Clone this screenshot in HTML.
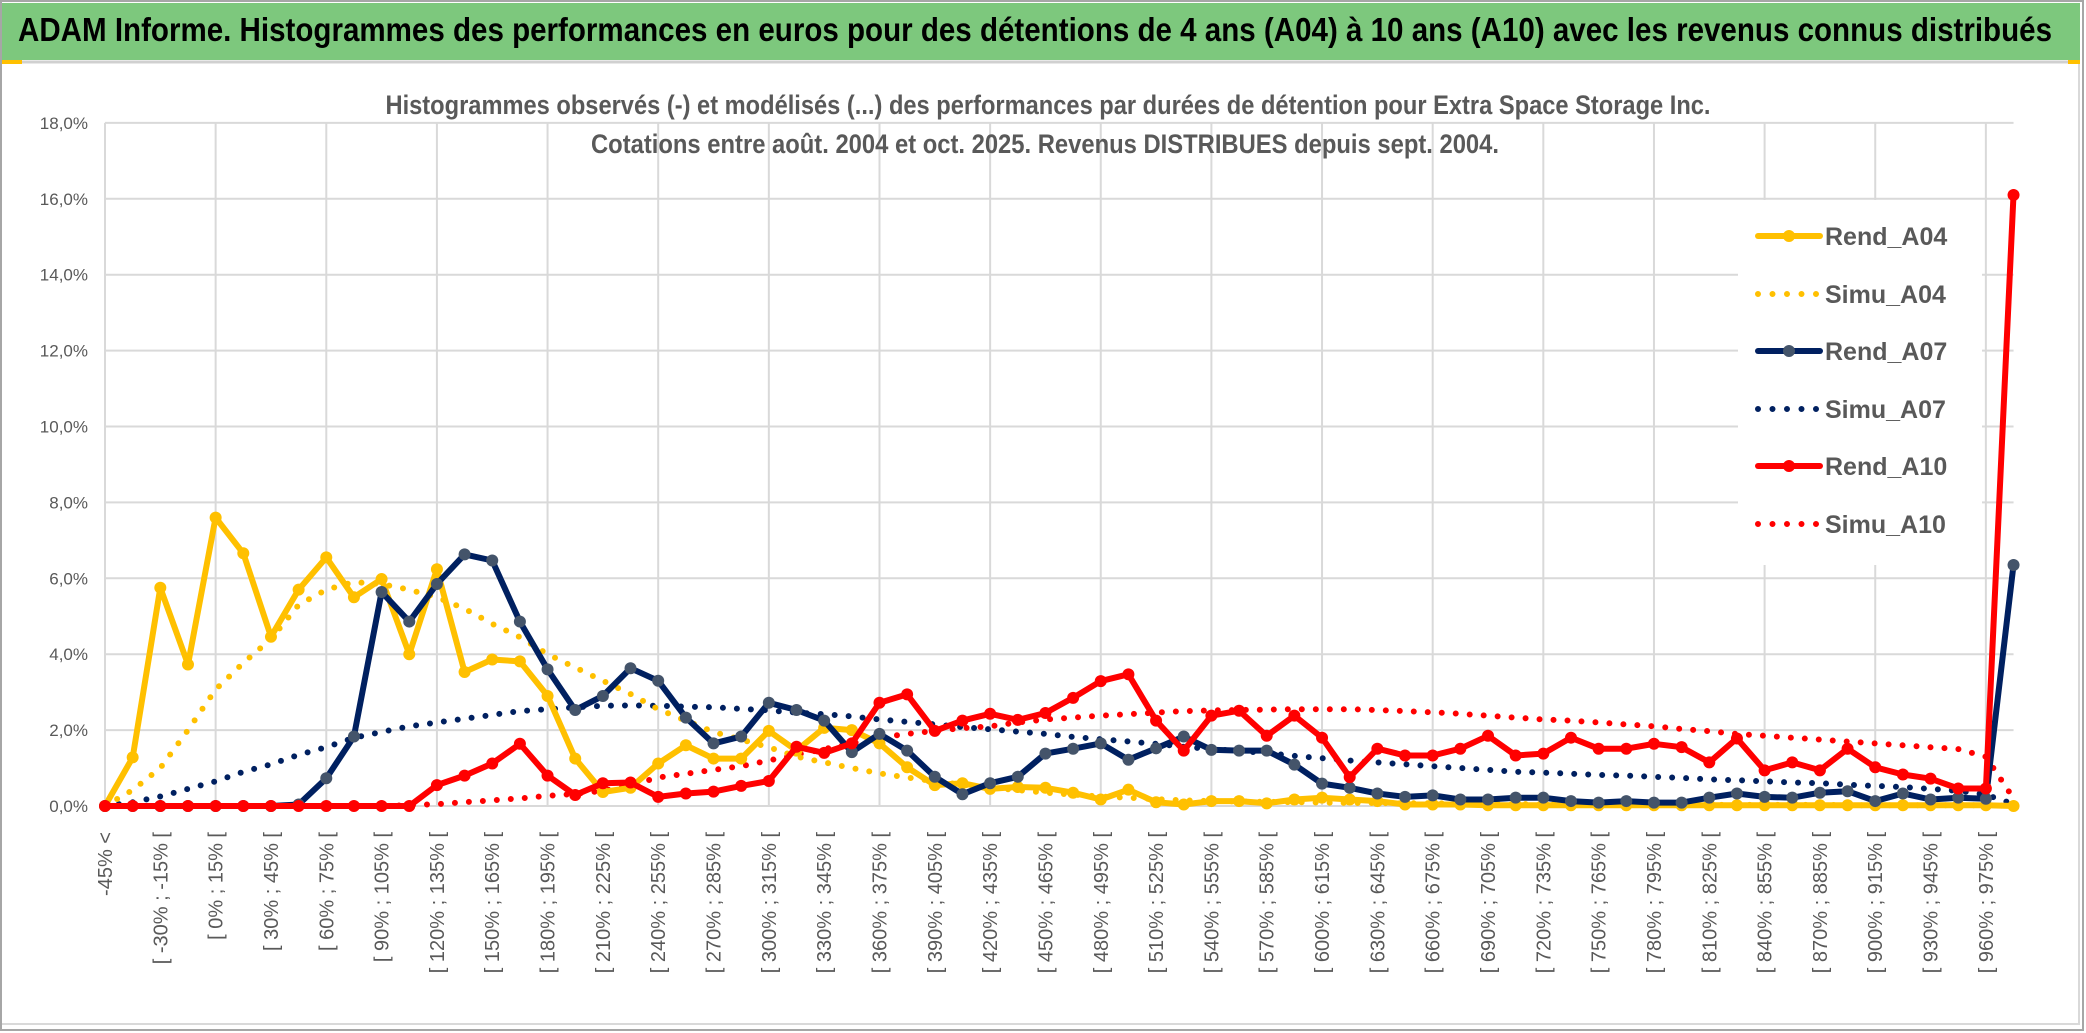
<!DOCTYPE html>
<html><head><meta charset="utf-8"><style>
html,body{margin:0;padding:0;background:#fff;}
svg{display:block;}
text{font-family:"Liberation Sans",sans-serif;}
</style></head><body>
<svg id="chart" width="2086" height="1033" viewBox="0 0 2086 1033" xmlns="http://www.w3.org/2000/svg">
  <rect x="0" y="0" width="2086" height="1033" fill="#ffffff"/>
  <rect x="1" y="1" width="2082" height="1029" fill="none" stroke="#a6a6a6" stroke-width="2"/>
  <rect x="2" y="3" width="2078" height="57" fill="#7dc87d"/>
  <line x1="2" y1="62" x2="2080" y2="62" stroke="#d0d0d0" stroke-width="3"/>
  <rect x="2" y="60" width="20" height="4" fill="#ffc000"/>
  <rect x="2068" y="60" width="12" height="4" fill="#ffc000"/>
  <text x="18" y="41" font-size="33" font-weight="bold" fill="#000" textLength="2034" lengthAdjust="spacingAndGlyphs">ADAM Informe. Histogrammes des performances en euros pour des détentions de 4 ans (A04) à 10 ans (A10) avec les revenus connus distribués</text>
  <line x1="2079" y1="64" x2="2079" y2="1024" stroke="#d9d9d9" stroke-width="2"/>
  <line x1="2" y1="1024" x2="2080" y2="1024" stroke="#d9d9d9" stroke-width="2"/>
  <g id="grid"></g>
  <g id="ylabels"></g>
  <g id="xlabels"></g>
  <rect x="1738" y="200" width="244" height="365" fill="#ffffff"/>
  <g id="series"></g>
  <text x="1048" y="114" font-size="27" font-weight="bold" fill="#595959" text-anchor="middle" textLength="1325" lengthAdjust="spacingAndGlyphs">Histogrammes observés (-) et modélisés (...) des performances par durées de détention pour Extra Space Storage Inc.</text>
  <text x="1045" y="153" font-size="27" font-weight="bold" fill="#595959" text-anchor="middle" textLength="908" lengthAdjust="spacingAndGlyphs">Cotations entre août. 2004 et oct. 2025. Revenus DISTRIBUES depuis sept. 2004.</text>
  <g id="legend"></g>
</svg>
<script>
const rendA04 = [0,1.28,5.75,3.73,7.6,6.66,4.46,5.7,6.55,5.5,
5.98,4.0,6.24,3.53,3.86,3.81,2.9,1.25,0.37,0.48,
1.12,1.6,1.25,1.25,1.98,1.46,2.06,2.0,1.65,1.02,
0.55,0.6,0.45,0.5,0.48,0.35,0.17,0.43,0.1,0.04,
0.13,0.13,0.07,0.17,0.22,0.17,0.13,0.04,0.04,0.04,
0.02,0.02,0.02,0.02,0.02,0.02,0.02,0.02,0.02,0.02,
0.02,0.02,0.02,0.02,0.02,0.02,0.02,0.02,0.02,0];
const simuA04 = [0,0.42,1.0,2.0,3.07,3.77,4.4,5.3,5.7,5.9,
5.85,5.7,5.5,5.2,4.8,4.45,4.0,3.65,3.3,2.95,
2.55,2.25,1.95,1.75,1.55,1.3,1.15,1.0,0.86,0.75,
0.65,0.56,0.48,0.42,0.35,0.3,0.25,0.22,0.18,0.15,
0.13,0.12,0.11,0.1,0.09,0.08,0.08,0.07,0.07,0.06,
0.06,0.05,0.05,0.05,0.04,0.04,0.04,0.04,0.03,0.03,
0.03,0.03,0.03,0.02,0.02,0.02,0.02,0.02,0.02,0];
const rendA07 = [0,0,0,0,0,0,0,0.04,0.73,1.83,
5.64,4.86,5.85,6.63,6.47,4.86,3.6,2.53,2.9,3.63,
3.3,2.33,1.65,1.83,2.72,2.53,2.25,1.42,1.9,1.46,
0.77,0.31,0.6,0.77,1.38,1.51,1.65,1.22,1.52,1.83,
1.48,1.46,1.46,1.09,0.59,0.48,0.33,0.24,0.28,0.17,
0.17,0.22,0.22,0.13,0.09,0.13,0.09,0.09,0.22,0.33,
0.24,0.22,0.35,0.39,0.13,0.33,0.17,0.22,0.19,6.35];
const simuA07 = [0,0.1,0.25,0.45,0.65,0.9,1.1,1.35,1.55,1.8,
1.95,2.1,2.2,2.3,2.4,2.5,2.55,2.6,2.64,2.65,
2.64,2.62,2.6,2.56,2.52,2.46,2.42,2.36,2.28,2.22,
2.15,2.08,2.02,1.96,1.9,1.82,1.76,1.7,1.64,1.56,
1.5,1.45,1.4,1.32,1.26,1.2,1.15,1.1,1.05,1.0,
0.95,0.9,0.88,0.85,0.82,0.8,0.77,0.74,0.7,0.68,
0.65,0.62,0.6,0.56,0.53,0.5,0.45,0.4,0.3,0.05];
const rendA10 = [0,0,0,0,0,0,0,0,0,0,
0,0,0.55,0.8,1.12,1.64,0.8,0.29,0.6,0.62,
0.24,0.33,0.38,0.53,0.66,1.56,1.4,1.65,2.72,2.94,
1.98,2.25,2.43,2.27,2.45,2.85,3.29,3.47,2.25,1.46,
2.38,2.51,1.85,2.38,1.8,0.76,1.51,1.33,1.33,1.51,
1.85,1.33,1.38,1.8,1.51,1.51,1.64,1.55,1.15,1.78,
0.94,1.15,0.94,1.51,1.02,0.83,0.72,0.46,0.46,16.1];
const simuA10 = [0,0,0,0,0,0,0,0,0,0,
0,0.02,0.05,0.1,0.15,0.2,0.27,0.32,0.4,0.55,
0.75,0.85,0.95,1.05,1.2,1.35,1.5,1.65,1.8,1.9,
1.98,2.05,2.1,2.2,2.28,2.33,2.38,2.42,2.46,2.5,
2.52,2.53,2.54,2.55,2.55,2.55,2.53,2.5,2.47,2.43,
2.38,2.33,2.28,2.25,2.2,2.15,2.1,2.03,1.97,1.9,
1.85,1.8,1.75,1.7,1.65,1.6,1.55,1.5,1.3,0.2];
const yTicks = [0,2,4,6,8,10,12,14,16,18];
const yTickLabels = ["0,0%","2,0%","4,0%","6,0%","8,0%","10,0%","12,0%","14,0%","16,0%","18,0%"];
const categories = (function(){
  const c = ["-45% <"];
  for (let a = -45; a <= 975; a += 15) c.push("[ " + a + "% ; " + (a + 15) + "% [");
  return c;
})();
const seriesNames = ["Rend_A04","Simu_A04","Rend_A07","Simu_A07","Rend_A10","Simu_A10"];

const NS = "http://www.w3.org/2000/svg";
const X0 = 105, DX = 27.66, Y0 = 806, PY = 37.95;
function xPos(i){ return X0 + i * DX; }
function yPos(v){ return Y0 - v * PY; }
function mk(tag, attrs, parent){
  const e = document.createElementNS(NS, tag);
  for (const k in attrs) e.setAttribute(k, attrs[k]);
  parent.appendChild(e);
  return e;
}
const N = rendA04.length;
const xEnd = xPos(N - 1);

const grid = document.getElementById('grid');
yTicks.forEach(function(t){
  const l = mk('line', {x1: X0, x2: xEnd, y1: yPos(t), y2: yPos(t), stroke: '#d9d9d9', 'stroke-width': 2}, grid);
  
  
});
for (let i = 0; i < N; i += 4) {
  const l = mk('line', {x1: xPos(i), x2: xPos(i), y1: yPos(18), y2: Y0, stroke: '#d9d9d9', 'stroke-width': 2}, grid);
  
  
}
const yl = document.getElementById('ylabels');
yTicks.forEach(function(t, k){
  const tx = mk('text', {x: 88, y: yPos(t) + 6, 'font-size': 17, fill: '#595959', 'text-anchor': 'end'}, yl);
  tx.textContent = yTickLabels[k];
  
  
});
const xl = document.getElementById('xlabels');
for (let i = 0; i < categories.length && i < N; i += 2) {
  const x = xPos(i);
  const tx = mk('text', {x: 0, y: 0, 'font-size': 20, fill: '#595959', 'text-anchor': 'end', transform: 'translate(' + (x + 7) + ',832) rotate(-90)'}, xl);
  tx.textContent = categories[i];
  
  
}

const sg = document.getElementById('series');
function pts(arr){ return arr.map(function(v, i){ return xPos(i).toFixed(1) + ',' + yPos(v).toFixed(1); }).join(' '); }
function dotted(arr, color, name){
  const p = mk('polyline', {points: pts(arr), fill: 'none', stroke: color, 'stroke-width': 6, 'stroke-linecap': 'round', 'stroke-dasharray': '0 14'}, sg);
  
  
}
function solid(arr, color, mcolor, name){
  const p = mk('polyline', {points: pts(arr), fill: 'none', stroke: color, 'stroke-width': 6, 'stroke-linejoin': 'round'}, sg);
  
  
  arr.forEach(function(v, i){
    const c = mk('circle', {cx: xPos(i), cy: yPos(v), r: 6, fill: mcolor}, sg);
    
    
  });
}
dotted(simuA10, '#ff0000', 'simu-a10-line');
dotted(simuA07, '#002060', 'simu-a07-line');
dotted(simuA04, '#ffc000', 'simu-a04-line');
solid(rendA04, '#ffc000', '#ffc000', 'rend-a04-line');
solid(rendA07, '#002060', '#44546a', 'rend-a07-line');
solid(rendA10, '#ff0000', '#ff0000', 'rend-a10-line');

const lg = document.getElementById('legend');
const legendStyles = [
  {c: '#ffc000', m: '#ffc000', dot: false},
  {c: '#ffc000', m: null, dot: true},
  {c: '#002060', m: '#44546a', dot: false},
  {c: '#002060', m: null, dot: true},
  {c: '#ff0000', m: '#ff0000', dot: false},
  {c: '#ff0000', m: null, dot: true}
];
const legendY = [236, 294, 351, 409, 466, 524];
seriesNames.forEach(function(n, k){
  const s = legendStyles[k], y = legendY[k];
  const g = mk('g', {}, lg);
  
  
  if (s.dot) {
    mk('line', {x1: 1758, x2: 1818, y1: y, y2: y, stroke: s.c, 'stroke-width': 6, 'stroke-linecap': 'round', 'stroke-dasharray': '0 14.5'}, g);
  } else {
    mk('line', {x1: 1758, x2: 1820, y1: y, y2: y, stroke: s.c, 'stroke-width': 6, 'stroke-linecap': 'round'}, g);
    mk('circle', {cx: 1789, cy: y, r: 6, fill: s.m}, g);
  }
  const t = mk('text', {x: 1825, y: y + 9, 'font-size': 25, 'font-weight': 'bold', fill: '#595959'}, g);
  t.textContent = n;
});
</script>
</body></html>
